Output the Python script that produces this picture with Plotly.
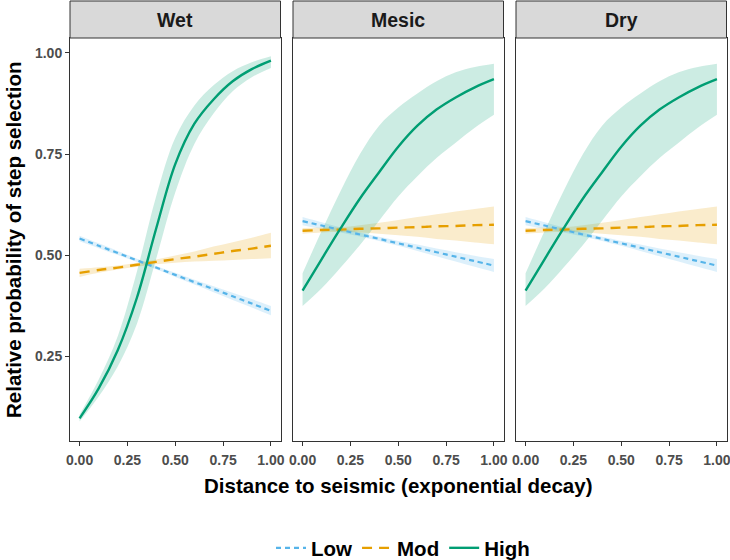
import plotly.graph_objects as go

# ---- data ----
panels = ["Wet", "Mesic", "Dry"]
series = ["Low", "Mod", "High"]
x_vals = [0.0, 0.1, 0.2, 0.3, 0.4, 0.5, 0.6, 0.7, 0.8, 0.9, 1.0]
x_ticks = [0.0, 0.25, 0.5, 0.75, 1.0]
y_ticks = [0.25, 0.5, 0.75, 1.0]

# Wet
wet_low = [0.541, 0.523, 0.505, 0.487, 0.469, 0.451, 0.433, 0.416, 0.398, 0.380, 0.362]
wet_low_lo = [0.534, 0.517, 0.500, 0.483, 0.465, 0.446, 0.427, 0.408, 0.389, 0.370, 0.351]
wet_low_hi = [0.548, 0.529, 0.510, 0.491, 0.473, 0.456, 0.439, 0.423, 0.407, 0.391, 0.374]
wet_mod = [0.456, 0.463, 0.469, 0.476, 0.483, 0.490, 0.496, 0.503, 0.510, 0.516, 0.523]
wet_mod_lo = [0.446, 0.456, 0.464, 0.471, 0.477, 0.481, 0.484, 0.486, 0.488, 0.490, 0.492]
wet_mod_hi = [0.466, 0.470, 0.474, 0.481, 0.489, 0.499, 0.509, 0.521, 0.532, 0.543, 0.555]
wet_high = [0.096, 0.170, 0.265, 0.395, 0.565, 0.725, 0.825, 0.885, 0.930, 0.960, 0.981]
wet_high_lo = [0.088, 0.150, 0.225, 0.330, 0.490, 0.655, 0.775, 0.850, 0.905, 0.940, 0.963]
wet_high_hi = [0.105, 0.192, 0.300, 0.460, 0.645, 0.790, 0.870, 0.920, 0.955, 0.977, 0.992]

# Mesic
mesic_low = [0.584, 0.573, 0.562, 0.551, 0.540, 0.529, 0.518, 0.507, 0.496, 0.485, 0.474]
mesic_low_lo = [0.574, 0.565, 0.556, 0.546, 0.535, 0.523, 0.510, 0.497, 0.484, 0.471, 0.458]
mesic_low_hi = [0.594, 0.581, 0.568, 0.556, 0.545, 0.535, 0.526, 0.516, 0.507, 0.498, 0.490]
mesic_mod = [0.560, 0.562, 0.563, 0.565, 0.566, 0.568, 0.569, 0.571, 0.572, 0.574, 0.575]
mesic_mod_lo = [0.553, 0.556, 0.557, 0.556, 0.553, 0.549, 0.545, 0.540, 0.536, 0.531, 0.527]
mesic_mod_hi = [0.567, 0.568, 0.569, 0.574, 0.580, 0.587, 0.594, 0.601, 0.608, 0.614, 0.620]
mesic_high = [0.412, 0.490, 0.567, 0.640, 0.705, 0.768, 0.820, 0.860, 0.890, 0.915, 0.935]
mesic_high_lo = [0.374, 0.418, 0.470, 0.525, 0.585, 0.645, 0.695, 0.740, 0.778, 0.815, 0.847]
mesic_high_hi = [0.455, 0.560, 0.660, 0.750, 0.820, 0.865, 0.900, 0.930, 0.952, 0.965, 0.973]

# Dry
dry_low = [0.584, 0.573, 0.562, 0.551, 0.540, 0.529, 0.518, 0.507, 0.496, 0.485, 0.474]
dry_low_lo = [0.574, 0.565, 0.556, 0.546, 0.535, 0.523, 0.510, 0.497, 0.484, 0.471, 0.458]
dry_low_hi = [0.594, 0.581, 0.568, 0.556, 0.545, 0.535, 0.526, 0.516, 0.507, 0.498, 0.490]
dry_mod = [0.560, 0.562, 0.563, 0.565, 0.566, 0.568, 0.569, 0.571, 0.572, 0.574, 0.575]
dry_mod_lo = [0.553, 0.556, 0.557, 0.556, 0.553, 0.549, 0.545, 0.540, 0.536, 0.531, 0.527]
dry_mod_hi = [0.567, 0.568, 0.569, 0.574, 0.580, 0.587, 0.594, 0.601, 0.608, 0.614, 0.620]
dry_high = [0.412, 0.490, 0.567, 0.640, 0.705, 0.768, 0.820, 0.860, 0.890, 0.915, 0.935]
dry_high_lo = [0.374, 0.418, 0.470, 0.525, 0.585, 0.645, 0.695, 0.740, 0.778, 0.815, 0.847]
dry_high_hi = [0.455, 0.560, 0.660, 0.750, 0.820, 0.865, 0.900, 0.930, 0.952, 0.965, 0.973]

panel_data = {
    "Wet": {"Low": (wet_low, wet_low_lo, wet_low_hi),
            "Mod": (wet_mod, wet_mod_lo, wet_mod_hi),
            "High": (wet_high, wet_high_lo, wet_high_hi)},
    "Mesic": {"Low": (mesic_low, mesic_low_lo, mesic_low_hi),
              "Mod": (mesic_mod, mesic_mod_lo, mesic_mod_hi),
              "High": (mesic_high, mesic_high_lo, mesic_high_hi)},
    "Dry": {"Low": (dry_low, dry_low_lo, dry_low_hi),
            "Mod": (dry_mod, dry_mod_lo, dry_mod_hi),
            "High": (dry_high, dry_high_lo, dry_high_hi)},
}

# ---- styles ----
colors = {"Low": "#56B4E9", "Mod": "#E69F00", "High": "#009E73"}
fills = {"Low": "rgba(86,180,233,0.2)", "Mod": "rgba(230,159,0,0.2)", "High": "rgba(0,158,115,0.2)"}
dashes = {"Low": "5px,4px", "Mod": "10px,7px", "High": "solid"}
widths = {"Low": 2.2, "Mod": 2.4, "High": 2.4}
FONT = "Liberation Sans, Arial, sans-serif"

W, H = 730, 560
x_dom_px = [(70, 280.5), (293, 503.5), (516, 726.5)]
y_dom = [1 - 441 / H, 1 - 38 / H]

fig = go.Figure()

for i, p in enumerate(panels):
    xa = "x" if i == 0 else f"x{i+1}"
    ya = "y" if i == 0 else f"y{i+1}"
    for s in series:
        mid, lo, hi = panel_data[p][s]
        fig.add_trace(go.Scatter(x=x_vals, y=lo, mode="lines", line=dict(width=0, shape="spline"),
                                 showlegend=False, hoverinfo="skip", xaxis=xa, yaxis=ya))
        fig.add_trace(go.Scatter(x=x_vals, y=hi, mode="lines", line=dict(width=0, shape="spline"),
                                 fill="tonexty", fillcolor=fills[s],
                                 showlegend=False, hoverinfo="skip", xaxis=xa, yaxis=ya))
    for s in series:
        mid, lo, hi = panel_data[p][s]
        fig.add_trace(go.Scatter(x=x_vals, y=mid, mode="lines", name=s,
                                 line=dict(color=colors[s], width=widths[s], dash=dashes[s], shape="spline"),
                                 showlegend=(i == 0), legendgroup=s, xaxis=xa, yaxis=ya))

layout_axes = {}
tickfont = dict(family=FONT, size=14, color="#4D4D4D", weight="bold")
for i, p in enumerate(panels):
    x0, x1 = x_dom_px[i]
    xkey = "xaxis" if i == 0 else f"xaxis{i+1}"
    ykey = "yaxis" if i == 0 else f"yaxis{i+1}"
    layout_axes[xkey] = dict(
        domain=[x0 / W, x1 / W], range=[-0.05, 1.05], anchor="y" if i == 0 else f"y{i+1}",
        tickvals=x_ticks, tickformat=".2f", ticks="outside", ticklen=4, tickwidth=1, tickcolor="#333333",
        showline=True, mirror=True, linecolor="#333333", linewidth=1, showgrid=False, zeroline=False,
        tickfont=tickfont, automargin=False, ticklabeloverflow="allow", ticklabelstandoff=2,
    )
    layout_axes[ykey] = dict(
        domain=y_dom, range=[0.04, 1.037], anchor="x" if i == 0 else f"x{i+1}",
        tickvals=y_ticks, tickformat=".2f",
        ticks="outside" if i == 0 else "", ticklen=4, tickwidth=1, tickcolor="#333333",
        showticklabels=(i == 0),
        showline=True, mirror=True, linecolor="#333333", linewidth=1, showgrid=False, zeroline=False,
        tickfont=tickfont, automargin=False, ticklabeloverflow="allow",
    )

shapes = []
annotations = []
for i, p in enumerate(panels):
    x0, x1 = x_dom_px[i]
    shapes.append(dict(type="rect", xref="paper", yref="paper", x0=x0 / W, x1=x1 / W,
                       y0=1 - 38 / H, y1=1 - 1 / H, fillcolor="#D9D9D9",
                       line=dict(color="#333333", width=1), layer="above"))
    annotations.append(dict(text=p, xref="paper", yref="paper", x=(x0 + x1) / 2 / W, y=1 - 20 / H,
                            xanchor="center", yanchor="middle", showarrow=False,
                            font=dict(family=FONT, size=19.5, color="#1A1A1A", weight="bold")))

annotations.append(dict(text="Distance to seismic (exponential decay)", xref="paper", yref="paper",
                        x=398 / W, y=1 - 485 / H, xanchor="center", yanchor="middle", showarrow=False,
                        font=dict(family=FONT, size=20.5, color="#000000", weight="bold")))
annotations.append(dict(text="Relative probability of step selection", xref="paper", yref="paper",
                        x=13 / W, y=1 - 240 / H, xanchor="center", yanchor="middle", showarrow=False,
                        textangle=-90,
                        font=dict(family=FONT, size=20.5, color="#000000", weight="bold")))

fig.update_layout(
    width=W, height=H, margin=dict(l=0, r=0, t=0, b=0, autoexpand=False),
    paper_bgcolor="white", plot_bgcolor="white",
    shapes=shapes, annotations=annotations,
    legend=dict(orientation="h", x=403 / W, xanchor="center", y=1 - 548 / H, yanchor="middle",
                font=dict(family=FONT, size=20.5, color="#000000", weight="bold"),
                itemwidth=30, tracegroupgap=0, bgcolor="rgba(0,0,0,0)"),
    **layout_axes,
)

fig.write_html("out.html", config={"displayModeBar": False},
               post_script="document.body.style.margin='0';document.body.style.padding='0';"
                           "document.documentElement.style.overflow='hidden';")
